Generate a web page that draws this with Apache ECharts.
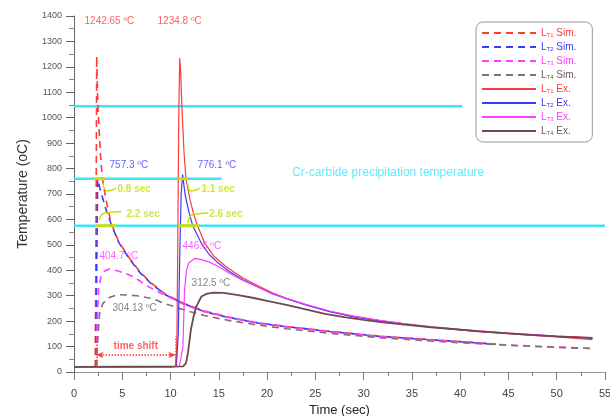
<!DOCTYPE html>
<html><head><meta charset="utf-8">
<script src="https://cdn.jsdelivr.net/npm/echarts@6/dist/echarts.min.js"></script>
<style>html,body{margin:0;padding:0;background:#fff}#c{width:610px;height:416px}</style>
</head><body><div id="c"></div>
<script>
// ---- data ----
const xTicks = [0,5,10,15,20,25,30,35,40,45,50,55];
const yTicks = [0,100,200,300,400,500,600,700,800,900,1000,1100,1200,1300,1400];
const seriesNames = ['LT1 Sim.','LT2 Sim.','LT3 Sim.','LT4 Sim.','LT1 Ex.','LT2 Ex.','LT3 Ex.','LT4 Ex.'];

const t1Sim = [[2.2,20],[2.3,700],[2.35,1242.65],[2.47,1045],[2.75,850],[2.95,760],[3.3,680],[3.85,585],[4.6,515],[5.6,455],[6.8,395],[8,350],[9.5,305],[11.5,268],[13.5,240],[16,216],[19,194],[22,179],[26.5,160],[31.7,141],[36.8,128],[40,120],[43.7,110]];
const t2Sim = [[2.25,20],[2.35,400],[2.45,757.3],[2.7,720],[3.0,680],[3.4,628],[3.85,582],[4.6,512],[5.6,452],[6.8,392],[8,347],[9.5,303],[11.5,266],[13.5,238],[16,214],[19,193],[22,178],[26.5,159],[31.7,140],[36.8,127],[40,119],[43.7,109]];
const t3Sim = [[2.3,20],[2.4,200],[2.55,330],[2.8,375],[3.2,398],[3.7,404.7],[4.5,398],[5.5,385],[6.3,372],[7.5,340],[9,310],[10.5,283],[11.5,263],[13.5,237],[16,214],[19,192],[22,177],[26.5,158],[31.7,139],[36.8,126],[40,118],[45,106],[50,98],[53.7,93]];
const t4Sim = [[2.35,20],[2.45,120],[2.65,230],[3.0,270],[3.6,292],[4.5,304.13],[5.5,303],[6.5,300],[8,290],[9.5,268],[11.5,243],[13.5,222],[16,203],[19,185],[22,170],[26.5,152],[31.7,135],[36.8,122],[40,115],[45,105],[50,97],[53.7,92]];

const t1Ex = [[0,20],[10.5,22],[10.65,100],[10.75,500],[10.85,1000],[10.95,1234.8],[11.05,1180],[11.17,1045],[11.4,860],[11.6,760],[12.0,680],[12.4,620],[12.8,575],[13.5,510],[14.5,455],[15.5,422],[16.6,392],[17.5,370],[19,340],[20.5,312],[22,290],[24,265],[26.5,238],[29,218],[31.7,202],[34,190],[36.8,177],[40,166],[42,159],[45,151],[47.2,145],[50,138],[53.7,127]];
const t2Ex = [[0,20],[10.6,22],[10.8,150],[10.95,450],[11.1,700],[11.25,776.1],[11.5,700],[11.9,630],[12.3,575],[13.2,505],[14.0,462],[14.9,430],[16.1,395],[17.5,363],[19,335],[20.5,308],[22,288],[24,264],[26.5,237],[29,217],[31.7,201],[34,189],[36.8,177],[40,166],[42,160],[45,152],[47.2,147],[50,140],[53.7,133]];
const t3Ex = [[0,20],[5,18],[10,18],[10.9,22],[11.1,60],[11.28,100],[11.45,320],[11.65,400],[11.9,430],[12.5,446.6],[13.2,442],[14,432],[14.9,416],[16.1,388],[17.5,360],[19,334],[20.5,310],[22,290],[24,266],[26.5,240],[29,220],[31.7,203],[34,191],[36.8,179],[40,168],[42,162],[45,153],[47.2,148],[50,141],[53.7,134]];
const t4Ex = [[0,20],[11.3,22],[11.6,35],[11.8,74],[12.1,165],[12.4,220],[12.66,257],[13.2,297],[13.8,308],[14.5,312.5],[15.5,311],[17,302],[18.5,292],[20,280],[22,264],[24,246],[26,229],[28,216],[30,205],[32,195],[34,187],[37,176],[40,167],[42,160],[45,152],[47.2,146],[50,140],[53.7,134]];

// reference temperature lines
const lineHigh = [[0,1045],[40.2,1045]];
const lineMid = [[0,760],[15.3,760]];
const lineLow = [[0,575],[55,575]];
// yellow duration markers
const durSeg = [
  [[2.1,760],[3.2,760]], [[10.75,760],[11.8,760]],
  [[2.3,575],[4.4,575]], [[10.75,575],[13.0,575]]
];
const durHook = [
  [[3.0,743],[3.5,712],[4.37,722]],
  [[2.64,598],[3.16,625],[4.9,631]],
  [[11.8,736],[12.15,712],[13.0,722]],
  [[11.8,585],[12.3,618],[13.9,625]]
];
// time shift
const shiftY = 67;
const shiftFrom = 2.33, shiftTo = 10.5;
const shiftTick = [20, 140];

// annotations [x, y, text]
const peakLabels = [[1.09,1378,'1242.65 ºC'],[8.65,1378,'1234.8 ºC']];
const blueLabels = [[3.68,815,'757.3 ºC'],[12.8,815,'776.1 ºC']];
const magLabels = [[2.64,457,'404.7 ºC'],[11.24,496,'446.6 ºC']];
const brownLabels = [[12.18,350,'312.5 ºC'],[3.99,252,'304.13 ºC']];
const durLabels = [[4.5,717,'0.8 sec'],[5.44,622,'2.2 sec'],[13.2,717,'1.1 sec'],[14.0,622,'2.6 sec']];
const crLabel = [[22.6,783,'Cr-carbide precipitation temperature']];
const shiftLabel = [[6.4,102,'time shift']];

// ---- styling ----
const RED='#ff3a3a', BLUE='#3a3aff', MAG='#ff3cff', BRS='#85706f', BRE='#6e4a4a';
const CYAN='#3ae6f5', YEL='#c9dc12';
const FONT='Liberation Sans, Arial, sans-serif';
const colors=[RED,BLUE,MAG,BRS,RED,BLUE,MAG,BRE];
const dataSets=[t1Sim,t2Sim,t3Sim,t4Sim,t1Ex,t2Ex,t3Ex,t4Ex];

const series=[];
function plain(data,color,width,extra){
  return Object.assign({type:'line',data:data,symbol:'none',silent:true,z:1,
    lineStyle:{color:color,width:width},itemStyle:{color:color},animation:false},extra||{});
}
series.push(plain(lineHigh,CYAN,2.5));
series.push(plain(lineMid,CYAN,2.5));
series.push(plain(lineLow,CYAN,2.5));

seriesNames.forEach((n,i)=>{
  const sim=i<4;
  series.push({type:'line',name:n,data:dataSets[i],symbol:'none',animation:false,z:3,
    lineStyle:{color:colors[i],width: sim?1.6:(i===7?1.8:1.2),type: sim?[7,5]:'solid'},
    itemStyle:{color:colors[i]}});
});

durSeg.forEach(s=>series.push(plain(s,YEL,3,{z:4})));
durHook.forEach(s=>series.push(plain(s,YEL,1.5,{z:4,smooth:0.6})));

// time shift
series.push({type:'line',data:[],symbol:'none',silent:true,animation:false,
  markLine:{silent:true,symbol:['arrow','arrow'],symbolSize:[5,7],label:{show:false},
    lineStyle:{type:'dotted',color:RED,width:1.5},
    data:[
      [{coord:[shiftFrom,shiftY]},{coord:[shiftTo,shiftY]}],
      [{coord:[shiftFrom,shiftTick[0]],symbol:'none'},{coord:[shiftFrom,shiftTick[1]],symbol:'none'}],
      [{coord:[shiftTo,shiftTick[0]],symbol:'none'},{coord:[shiftTo,shiftTick[1]],symbol:'none'}]
    ]}});

function labelSeries(arr,color,size,weight,align){
  return {type:'scatter',data:arr,symbolSize:0,silent:true,animation:false,z:6,
    label:{show:true,position:'inside',formatter:p=>p.data[2],color:color,fontSize:size,
      fontWeight:weight||'normal',fontFamily:FONT,align:align||'left',verticalAlign:'middle'}};
}
series.push(labelSeries(peakLabels,RED,10));
series.push(labelSeries(blueLabels,BLUE,10));
series.push(labelSeries(magLabels,MAG,10));
series.push(labelSeries(brownLabels,'#6f5e5e',10));
series.push(labelSeries(durLabels,YEL,10,'bold'));
series.push(labelSeries(crLabel,CYAN,12));
series.push(labelSeries(shiftLabel,RED,10,'bold','center'));

const legendColors=[RED,BLUE,MAG,'#6e5a5a',RED,BLUE,MAG,'#6e5a5a'];
const chart=echarts.init(document.getElementById('c'),null,{renderer:'canvas'});
chart.setOption({
  animation:false,
  textStyle:{fontFamily:FONT},
  grid:{left:74,right:5,top:16,bottom:44,containLabel:false,outerBoundsMode:'none'},
  xAxis:{type:'value',min:xTicks[0],max:xTicks[xTicks.length-1],interval:5,
    name:'Time (sec)',nameLocation:'middle',nameGap:30,
    nameTextStyle:{fontSize:13,color:'#222',fontFamily:FONT},
    axisLine:{show:true,onZero:false,lineStyle:{color:'#999'}},
    axisTick:{show:true,length:8,lineStyle:{color:'#777'}},
    minorTick:{show:true,splitNumber:2,length:4,lineStyle:{color:'#777'}},
    splitLine:{show:false},
    axisLabel:{fontSize:11,color:'#444',margin:16,fontFamily:FONT,formatter:v=>String(v)}},
  yAxis:{type:'value',min:yTicks[0],max:yTicks[yTicks.length-1],interval:100,
    name:'Temperature (oC)',nameLocation:'middle',nameGap:44,
    nameTextStyle:{fontSize:14,color:'#333',fontFamily:FONT},
    axisLine:{show:true,lineStyle:{color:'#666'}},
    axisTick:{show:true,length:8,lineStyle:{color:'#666'}},
    minorTick:{show:true,splitNumber:2,length:5,lineStyle:{color:'#888'}},
    splitLine:{show:false},
    axisLabel:{fontSize:9,color:'#555',margin:12,fontFamily:FONT,formatter:v=>String(v)}},
  legend:{orient:'vertical',left:476,top:22,itemWidth:54,itemHeight:10,itemGap:4,
    backgroundColor:'#fff',borderColor:'#999',borderWidth:1,borderRadius:7,
    padding:[6,16,6,5],
    itemStyle:{opacity:0},
    data:seriesNames.map((n,i)=>({name:n,textStyle:{color:legendColors[i]}})),
    formatter:n=>{const m=n.match(/^L(T\d)(.*)$/);return 'L{s|'+m[1]+'}'+m[2];},
    textStyle:{fontSize:10,fontFamily:FONT,
      rich:{s:{fontSize:6,verticalAlign:'bottom',padding:[3,0,0,0]}}}},
  series:series
});
</script></body></html>
